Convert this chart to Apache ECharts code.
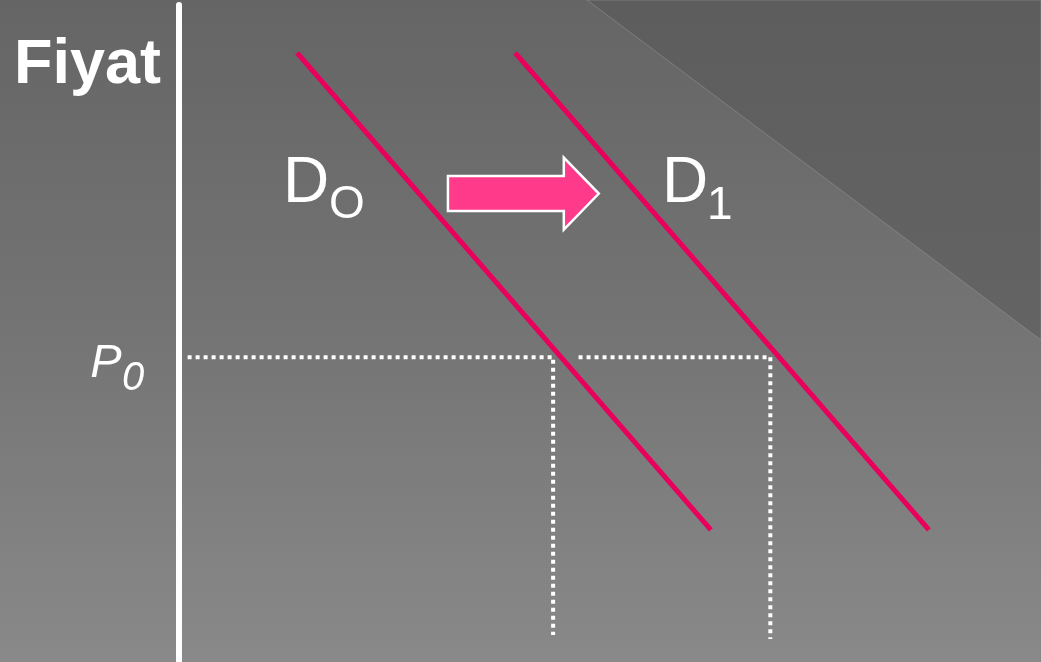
<!DOCTYPE html>
<html>
<head>
<meta charset="utf-8">
<script src="https://cdn.jsdelivr.net/npm/echarts@6/dist/echarts.min.js"></script>
<style>
html,body{margin:0;padding:0;background:#777;}
#chart{width:1041px;height:662px;}
</style>
</head>
<body>
<div id="chart"></div>
<script>
// ---- data (quantity on x: 0..100, price on y: 0..100) ----
const demandD0 = [[13.7, 92.7], [61.7, 20.1]];
const demandD1 = [[39.0, 92.7], [87.0, 20.1]];
const priceP0 = 46.4;
const quantityQ0 = 43.4;
const quantityQ1 = 68.6;
const guideQ0 = [[1.0, priceP0], [quantityQ0, priceP0], [quantityQ0, 4.1]];
const guideQ1 = [[46.35, priceP0], [quantityQ1, priceP0], [quantityQ1, 3.5]];
const shiftArrow = [[31.2, 71.3, 48.7]]; // [xFrom, price, xTo]
const axisTitle = 'Fiyat';
const labelTexts = ['D', 'O', 'D', '1', 'P', '0'];
const labelPositions = [[12.06, 72.7], [17.4, 69.45], [56.03, 72.7], [61.25, 69.4], [-10.3, 45.3], [-6.6, 43.1]];
const labelSizes = [64, 46, 64, 46, 47, 40];
const labelItalic = [false, false, false, false, true, true];

const FONT = '"Liberation Sans", Arial, sans-serif';
const chart = echarts.init(document.getElementById('chart'), null, {renderer: 'canvas'});

const labelData = labelTexts.map((t, i) => ({
  value: labelPositions[i],
  label: {
    show: true,
    formatter: t,
    position: 'inside',
    align: 'left',
    verticalAlign: 'middle',
    color: '#ffffff',
    opacity: 1,
    fontSize: labelSizes[i],
    lineHeight: labelSizes[i],
    fontStyle: labelItalic[i] ? 'italic' : 'normal',
    fontFamily: FONT
  }
}));

const option = {
  animation: false,
  backgroundColor: {
    type: 'linear', x: 0, y: 0, x2: 0, y2: 1,
    colorStops: [
      {offset: 0, color: '#656565'},
      {offset: 0.5, color: '#747474'},
      {offset: 1, color: '#898989'}
    ]
  },
  graphic: [{
    type: 'polygon',
    z: -1,
    silent: true,
    shape: {points: [[587, 0], [1041, 0], [1041, 340]]},
    style: {
      fill: {
        type: 'linear', x: 0, y: 0, x2: 0, y2: 1,
        colorStops: [{offset: 0, color: '#5d5d5d'}, {offset: 1, color: '#646464'}]
      },
      stroke: 'rgba(160,160,160,0.45)',
      lineWidth: 1
    }
  }],
  grid: {left: 179, right: 0, top: 5, bottom: 0, containLabel: false},
  xAxis: {
    type: 'value', min: 0, max: 100,
    show: false
  },
  yAxis: {
    type: 'value', min: 0, max: 100,
    axisLine: {show: true, lineStyle: {color: '#ffffff', width: 6}},
    axisTick: {show: false},
    axisLabel: {show: false},
    splitLine: {show: false},
    name: axisTitle,
    nameLocation: 'end',
    nameGap: -61,
    nameTextStyle: {
      color: '#ffffff', fontSize: 63, fontWeight: 'bold', fontFamily: FONT,
      align: 'right', verticalAlign: 'middle', padding: [0, 18, 0, 0]
    }
  },
  series: [
    {
      name: 'D0', type: 'line', data: demandD0, showSymbol: false, symbol: 'none',
      lineStyle: {color: '#E8005C', width: 5}, z: 3
    },
    {
      name: 'D1', type: 'line', data: demandD1, showSymbol: false, symbol: 'none',
      lineStyle: {color: '#E8005C', width: 5}, z: 3
    },
    {
      name: 'Q0 guide', type: 'line', data: guideQ0, showSymbol: false, symbol: 'none',
      lineStyle: {color: '#ffffff', width: 4, type: [4, 4], cap: 'butt'}, z: 2
    },
    {
      name: 'Q1 guide', type: 'line', data: guideQ1, showSymbol: false, symbol: 'none',
      lineStyle: {color: '#ffffff', width: 4, type: [4, 4], cap: 'butt'}, z: 2
    },
    {
      name: 'shift', type: 'custom', z: 4,
      data: shiftArrow,
      renderItem: function (params, api) {
        const s = api.coord([api.value(0), api.value(1)]);
        const e = api.coord([api.value(2), api.value(1)]);
        const bh = 17.5, hh = 36, hl = 35;
        const cy = s[1];
        return {
          type: 'polygon',
          shape: {points: [
            [s[0], cy - bh], [e[0] - hl, cy - bh], [e[0] - hl, cy - hh], [e[0], cy],
            [e[0] - hl, cy + hh], [e[0] - hl, cy + bh], [s[0], cy + bh]
          ]},
          style: {fill: '#FF3A8A', stroke: '#ffffff', lineWidth: 2.5, lineJoin: 'miter'}
        };
      }
    },
    {
      name: 'labels', type: 'scatter', symbolSize: 0, clip: false, z: 5,
      itemStyle: {opacity: 1},
      data: labelData
    }
  ]
};
chart.setOption(option);
</script>
</body>
</html>
